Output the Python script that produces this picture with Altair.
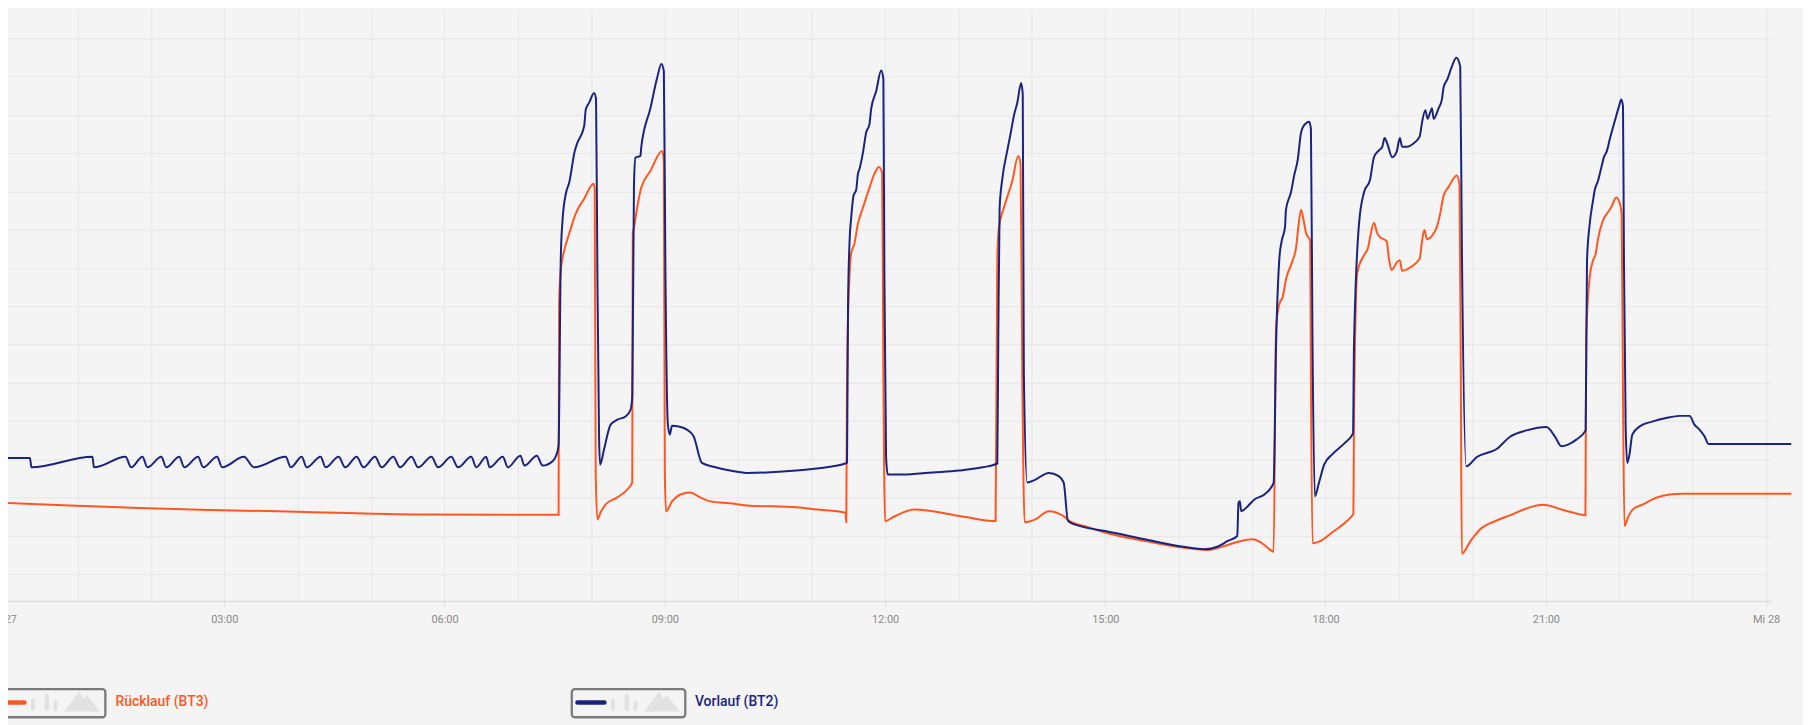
import altair as alt
import pandas as pd

# ---- data (time in minutes since midnight, temperature in °C) ----
VORLAUF_MIN = [
    -2.4, 21.2, 22.4, 72.2, 73.5, 99.3, 103.9, 113.1, 117.2, 128.5, 132.6, 143.2, 147.3, 158.6,
    162.7, 174.1, 178.2, 196.1, 204.2, 230.2, 234.3, 243.3, 247.3, 258.7, 262.8, 273.4, 278.8,
    288.2, 293.7, 303.2, 308.6, 318.1, 323.6, 333.0, 338.4, 349.3, 354.7, 365.5, 371.0, 381.8,
    385.9, 394.0, 396.8, 407.6, 411.7, 422.0, 425.3, 435.5, 440.1, 448.3, 452.3, 453.2,
    455.0, 456.4, 459.1, 461.9, 466.4, 468.6, 474.1, 475.4, 478.1, 482.2, 483.8, 484.9, 486.3,
    487.1, 490.3, 495.7, 501.2, 507.9, 512.0, 513.4, 514.8, 516.0, 520.1, 520.7, 528.3, 533.7,
    537.2, 539.2, 540.5, 542.4, 544.0, 545.9, 551.3, 558.1, 563.6, 570.3, 579.8, 593.3, 606.9,
    647.6, 663.9, 687.5, 688.9, 689.7, 691.0, 692.3, 694.2, 696.4, 697.8, 699.1, 701.9, 704.5,
    707.2, 708.6, 712.7, 716.8, 718.6, 719.4, 720.8, 722.2, 734.4, 758.8, 780.5, 799.5, 811.7,
    812.5, 813.6, 815.8, 819.8, 822.5, 825.2, 828.0, 831.2, 832.5, 833.4, 836.1, 842.9, 853.7,
    861.9, 865.9, 869.5, 880.9, 899.8, 932.3, 959.4, 981.2, 992.0, 1000.1, 1007.8, 1008.8,
    1009.9, 1011.0, 1016.4, 1021.8, 1030.0, 1037.5, 1039.5, 1042.2, 1044.1, 1046.8, 1047.6,
    1051.7, 1054.4, 1057.1, 1059.9, 1062.5, 1066.6, 1068.0, 1069.3, 1071.2, 1074.7, 1078.8,
    1085.6, 1095.1, 1102.4, 1103.2, 1107.3, 1111.4, 1116.3, 1119.5, 1123.6, 1126.3, 1128.2,
    1130.3, 1134.4, 1138.0, 1140.7, 1142.5, 1146.6, 1152.0, 1156.9, 1158.8, 1161.5, 1163.4,
    1165.6, 1166.9, 1168.3, 1172.3, 1175.0, 1176.4, 1179.7, 1183.2, 1186.8, 1190.0, 1191.3,
    1194.9, 1203.6, 1219.8, 1230.7, 1244.2, 1260.5, 1267.3, 1272.7, 1278.1, 1284.9, 1292.5,
    1293.6, 1295.8, 1298.5, 1299.8, 1302.6, 1305.3, 1307.3, 1310.0, 1312.2, 1316.3, 1319.8,
    1321.6, 1323.0, 1323.8, 1325.2, 1326.5, 1328.5, 1330.6, 1336.7, 1347.5, 1358.3, 1369.2,
    1377.4, 1381.4, 1385.5, 1389.6, 1392.9, 1460.5,
]
VORLAUF_C = [
    26.07, 26.07, 25.58, 26.13, 25.58, 26.13, 25.58, 26.13, 25.58, 26.13, 25.58, 26.13, 25.58, 26.13,
    25.58, 26.13, 25.58, 26.13, 25.58, 26.13, 25.58, 26.13, 25.58, 26.13, 25.58, 26.13, 25.58,
    26.13, 25.58, 26.13, 25.58, 26.13, 25.58, 26.13, 25.58, 26.13, 25.58, 26.13, 25.58, 26.13,
    25.58, 26.13, 25.58, 26.13, 25.58, 26.19, 25.67, 26.19, 25.67, 25.90, 26.42, 26.77,
    36.57, 38.48, 39.88, 40.47, 42.12, 42.55, 43.42, 44.29, 44.63, 45.15, 44.82, 35.72, 27.03,
    25.72, 26.51, 27.81, 28.07, 28.24, 28.59, 29.28, 40.40, 41.77, 41.86, 42.29, 44.37, 45.93,
    46.66, 46.28, 35.72, 27.91, 27.29, 27.75, 27.72, 27.55, 27.20, 25.81, 25.61, 25.41, 25.29,
    25.41, 25.52, 25.78, 25.83, 33.95, 37.43, 38.63, 39.78, 40.09, 40.92, 41.18, 42.03, 43.07,
    43.51, 44.30, 45.24, 46.32, 45.87, 35.72, 26.14, 25.20, 25.20, 25.31, 25.41, 25.58, 25.78,
    32.23, 39.15, 40.66, 42.12, 43.00, 43.94, 44.63, 45.67, 45.08, 30.51, 24.79, 24.94, 25.29,
    25.12, 24.79, 22.77, 22.48, 22.25, 21.82, 21.47, 21.30, 21.44, 21.73, 21.99, 23.73,
    23.81, 23.29, 23.55, 23.90, 24.16, 24.77, 31.93, 36.50, 37.41, 38.14, 39.05,
    39.96, 40.87, 41.61, 43.07, 43.47, 43.65, 43.26, 31.93, 24.07, 24.81, 25.72,
    26.27, 26.82, 27.36, 31.93, 38.32, 39.96, 40.61, 41.79, 42.15, 42.34, 42.79,
    42.52, 41.79, 42.07, 42.79, 42.34, 42.34, 42.52, 42.88, 43.62, 44.25, 43.80,
    44.16, 44.35, 43.80, 44.35, 44.80, 45.44, 45.90, 46.54, 46.99, 46.54, 37.41,
    25.63, 26.12, 26.54, 27.18, 27.51, 27.69, 27.20, 26.68, 26.77, 27.03, 27.51,
    36.39, 38.30, 39.52, 40.04, 40.56, 41.25, 41.77, 42.15, 42.73, 43.68, 44.46,
    44.81, 44.46, 36.39, 27.72, 25.81, 26.33, 27.29, 27.72, 27.98, 28.16, 28.27,
    28.27, 27.81, 27.55, 27.20, 26.80, 26.80,
]
RUECKLAUF_MIN = [
    -2.4, 53.7, 110.6, 167.6, 224.5, 281.5, 338.4, 419.8, 453.2, 453.6, 455.0, 457.8, 461.9,
    467.2, 474.1, 481.7, 482.7, 483.5, 484.9, 487.6, 491.7, 501.2, 509.3, 513.4, 513.8, 514.8,
    517.4, 520.7, 528.3, 537.8, 539.2, 540.0, 541.0, 545.9, 552.7, 560.8, 568.9, 577.1, 593.3,
    606.9, 647.6, 663.9, 687.7, 688.3, 688.9, 691.0, 692.3, 695.0, 697.8, 701.9, 707.2, 711.3,
    714.9, 717.6, 718.6, 720.0, 726.3, 743.9, 758.8, 785.9, 810.3, 811.7, 813.0, 817.1, 824.0,
    828.8, 830.7, 832.1, 834.0, 842.9, 853.7, 865.9, 869.9, 886.2, 899.8, 932.3, 959.4, 983.9,
    997.5, 1011.0, 1020.5, 1027.3, 1036.7, 1037.5, 1039.5, 1042.2, 1044.9, 1047.6, 1053.1,
    1055.8, 1057.7, 1059.9, 1062.5, 1063.9, 1067.4, 1068.0, 1069.3, 1074.7, 1086.9, 1097.8,
    1102.7, 1103.2, 1105.9, 1111.4, 1114.6, 1116.3, 1119.5, 1122.2, 1124.9, 1129.8, 1131.7,
    1133.9, 1138.4, 1140.7, 1142.5, 1149.3, 1156.9, 1158.8, 1160.7, 1162.9, 1166.9, 1170.9,
    1173.7, 1176.4, 1180.5, 1187.2, 1189.4, 1190.5, 1191.3, 1198.1, 1206.3, 1219.8, 1230.7,
    1244.2, 1257.8, 1274.1, 1284.9, 1292.3, 1293.0, 1295.8, 1298.5, 1300.7, 1302.6, 1306.6,
    1310.7, 1313.4, 1317.5, 1320.2, 1321.9, 1323.0, 1324.2, 1327.0, 1331.1, 1339.2, 1350.1,
    1361.0, 1371.8, 1460.5,
]
RUECKLAUF_C = [
    23.73, 23.59, 23.45, 23.35, 23.28, 23.19, 23.12, 23.10, 23.10, 34.16, 35.87, 36.91, 37.80,
    38.84, 39.62, 40.40, 40.14, 25.31, 22.86, 23.23, 23.64, 24.01, 24.42, 24.79, 37.80, 38.11,
    39.15, 40.19, 41.08, 42.12, 41.60, 25.31, 23.28, 23.80, 24.16, 24.27, 24.01, 23.80, 23.70,
    23.59, 23.49, 23.38, 23.21, 22.71, 30.51, 35.72, 36.76, 37.28, 38.32, 39.15, 40.19, 40.92,
    41.28, 40.97, 30.51, 22.76, 22.97, 23.38, 23.29, 22.98, 22.77, 36.55, 38.11, 39.15, 40.56,
    41.86, 41.44, 30.51, 22.71, 22.86, 23.29, 23.03, 22.81, 22.45, 22.17, 21.73, 21.42, 21.26,
    21.47, 21.73, 21.82, 21.65, 21.18, 21.16, 32.85, 34.12, 34.48, 35.40, 36.40,
    37.04, 38.14, 39.05, 38.32, 37.86, 37.41, 30.10, 21.61, 21.70, 22.25, 22.80,
    23.16, 28.27, 35.77, 36.67, 37.04, 37.59, 38.36, 37.81, 37.59, 37.41, 36.50,
    35.89, 36.31, 36.40, 35.85, 36.04, 36.50, 37.41, 37.99, 37.50, 37.68, 38.14,
    38.87, 39.78, 40.24, 40.84, 40.33, 30.10, 21.06, 21.70, 22.34, 22.80, 23.07,
    23.43, 23.62, 23.35, 23.17, 23.07, 32.58, 35.52, 36.39, 36.74, 37.52, 38.48,
    38.91, 39.17, 39.69, 39.43, 38.82, 29.46, 22.51, 22.95, 23.38, 23.64, 23.99,
    24.16, 24.20, 24.20,
]

SERIES = ["Rücklauf (BT3)", "Vorlauf (BT2)"]
COLORS = ["#ff5722", "#1a237e"]
TICK_HOURS = [0, 3, 6, 9, 12, 15, 18, 21, 24]
TICK_LABELS = ["Di 27", "03:00", "06:00", "09:00", "12:00", "15:00", "18:00", "21:00", "Mi 28"]
GRID_HOURS = list(range(0, 25))
GRID_TEMPS = list(range(20, 49, 2))

BG = "#f4f4f4"
GRID = "#e7e7e7"

df_r = pd.DataFrame({"h": [m / 60 for m in RUECKLAUF_MIN], "t": RUECKLAUF_C, "s": SERIES[0]})
df_v = pd.DataFrame({"h": [m / 60 for m in VORLAUF_MIN], "t": VORLAUF_C, "s": SERIES[1]})

label_expr = ""
for hv, lab in zip(TICK_HOURS, TICK_LABELS):
    label_expr += f"datum.value == {hv} ? '{lab}' : "
label_expr += "''"

x_enc = alt.X(
    "h:Q",
    scale=alt.Scale(domain=[-0.0407, 24.068], nice=False, zero=False),
    axis=alt.Axis(
        values=GRID_HOURS, grid=True, gridColor=GRID, gridWidth=1,
        domainColor="#dedede", domainWidth=1.6,
        ticks=True, tickSize=6, tickColor="#e0e0e0", tickWidth=1,
        tickOpacity={"condition": {"test": "datum.value % 3 !== 0", "value": 0}, "value": 1},
        labelExpr=label_expr, labelFont="Roboto", labelFontSize=11, labelColor="#8a8a8a",
        labelPadding=16, labelBaseline="alphabetic", labelFlush=False, labelOverlap=False,
        labelBound=False, title=None,
    ),
)
y_enc = alt.Y(
    "t:Q",
    scale=alt.Scale(domain=[18.595, 49.56], nice=False, zero=False),
    axis=alt.Axis(values=GRID_TEMPS, grid=True, gridColor=GRID, gridWidth=1,
                  labels=False, ticks=False, domain=False, title=None),
)

line_r = alt.Chart(df_r).mark_line(
    strokeWidth=2, interpolate="monotone", clip=False, color=COLORS[0]
).encode(x=x_enc, y=y_enc)
line_v = alt.Chart(df_v).mark_line(
    strokeWidth=2, interpolate="monotone", clip=False, color=COLORS[1]
).encode(x=x_enc, y=y_enc)

# ---- custom legend boxes below the plot ----
one = pd.DataFrame({"k": [0]})
MOUNTAIN = "M-1,0.556L-0.167,-0.539L0.056,-0.167L0.278,-0.333L1,0.556Z"
legend_layers = []
for i, (name, col) in enumerate(zip(SERIES, COLORS)):
    off = -582.5 if i == 0 else 0.0
    box = alt.Chart(one).mark_rect(
        fillOpacity=0, stroke="#7a7a7a", strokeWidth=2.3, cornerRadius=3
    ).encode(x=alt.value(573.3 + off), x2=alt.value(687.3 + off),
             y=alt.value(683.5), y2=alt.value(711.8))
    swatch = alt.Chart(one).mark_rule(
        strokeWidth=4.5, strokeCap="round", color=col
    ).encode(x=alt.value(579 + off), x2=alt.value(606 + off), y=alt.value(697))
    bars = []
    for (bx0, bx1, by0) in [(612.7, 616.7, 693), (626.3, 630.7, 688.5), (635.3, 639.3, 695)]:
        bars.append(alt.Chart(one).mark_rect(color="#e2e2e2", cornerRadius=2).encode(
            x=alt.value(bx0 + off), x2=alt.value(bx1 + off),
            y=alt.value(by0), y2=alt.value(705.5)))
    mountain = alt.Chart(one).mark_point(
        shape=MOUNTAIN, size=1296, filled=True, color="#e2e2e2", opacity=1, strokeWidth=0
    ).encode(x=alt.value(664 + off), y=alt.value(696))
    text = alt.Chart(pd.DataFrame({"label": [name]})).mark_text(
        align="left", baseline="middle", font="Roboto", fontSize=14, fontWeight=500, color=col
    ).encode(x=alt.value(697 + off + (0.5 if i == 0 else 0)), y=alt.value(697), text="label:N")
    legend_layers += [box, swatch] + bars + [mountain, text]

chart = alt.layer(line_r, line_v, *legend_layers).properties(
    width=1778,
    height=595,
    padding={"left": -7, "top": -1, "right": 32, "bottom": 123},
    autosize=alt.AutoSizeParams(type="none"),
    background=BG,
).configure_view(stroke=None)

chart.save("out.html", embed_options={"renderer": "svg", "actions": False})
